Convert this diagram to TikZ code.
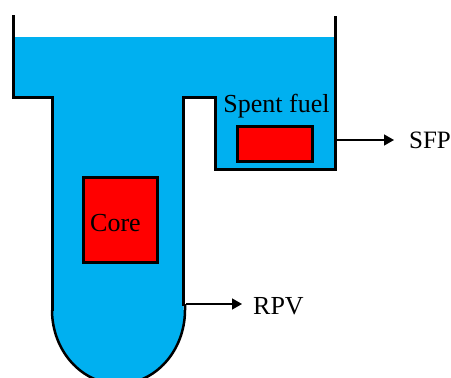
\documentclass[tikz,border=0pt]{standalone}
\usepackage{fontspec}
\setmainfont{Liberation Serif}
\usetikzlibrary{arrows.meta}
\definecolor{water}{RGB}{0,176,240}
\tikzset{
  px/.style={x=1pt,y=-1pt},
  wall/.style={draw=black,line width=3pt,line join=miter},
  fuelbox/.style={draw=black,line width=3pt,fill=red,inner sep=0pt,outer sep=0pt,minimum width=#1},
  lab/.style={inner sep=0pt,font=\fontsize{26}{26}\selectfont,text=black},
  pointer/.style={draw=black,line width=1.5pt,-{Triangle[length=10pt,width=11pt]}}
}
\begin{document}
\begin{tikzpicture}[px]
\useasboundingbox (0,0) rectangle (451,378);
\begin{scope}
\clip (0,0) rectangle (451,378);
\fill[water] (13.5,37) -- (335,37) -- (335,169) -- (215.5,169) -- (215.5,97) -- (183.5,97)
  -- (183.5,310) -- (185,310) arc[start angle=0,end angle=180,x radius=66.5,y radius=74] -- (52,97) -- (13.5,97) -- cycle;
\draw[wall] (13.5,15) -- (13.5,97) -- (52,97) -- (52,311);
\draw[wall] (335,16) -- (335,169) -- (215.5,169) -- (215.5,97) -- (183.5,97) -- (183.5,306);
\draw[wall,line width=2.5pt] (52,310) arc[start angle=180,end angle=0,x radius=66.5,y radius=74] -- (185,304);
\end{scope}
\node[fuelbox=74.5pt,minimum height=85pt,anchor=north west] (core) at (83,177.5) {};
\node[fuelbox=75pt,minimum height=35pt,anchor=north west] (spent) at (237,126.5) {};
\node[lab] (corelab) at (115.5,223) {Core};
\node[lab] (spentlab) at (276.5,106.5) {Spent fuel};
\node[lab,anchor=west,font=\fontsize{25}{25}\selectfont] (sfp) at (409,140) {SFP};
\node[lab,anchor=west] (rpv) at (253,306) {RPV};
\coordinate (sfpstart) at (336.5,140);
\coordinate (sfpend) at (394,140);
\coordinate (rpvstart) at (186,304);
\coordinate (rpvend) at (242,304);
\draw[pointer] (sfpstart) -- (sfpend);
\draw[pointer] (rpvstart) -- (rpvend);
\end{tikzpicture}
\end{document}
